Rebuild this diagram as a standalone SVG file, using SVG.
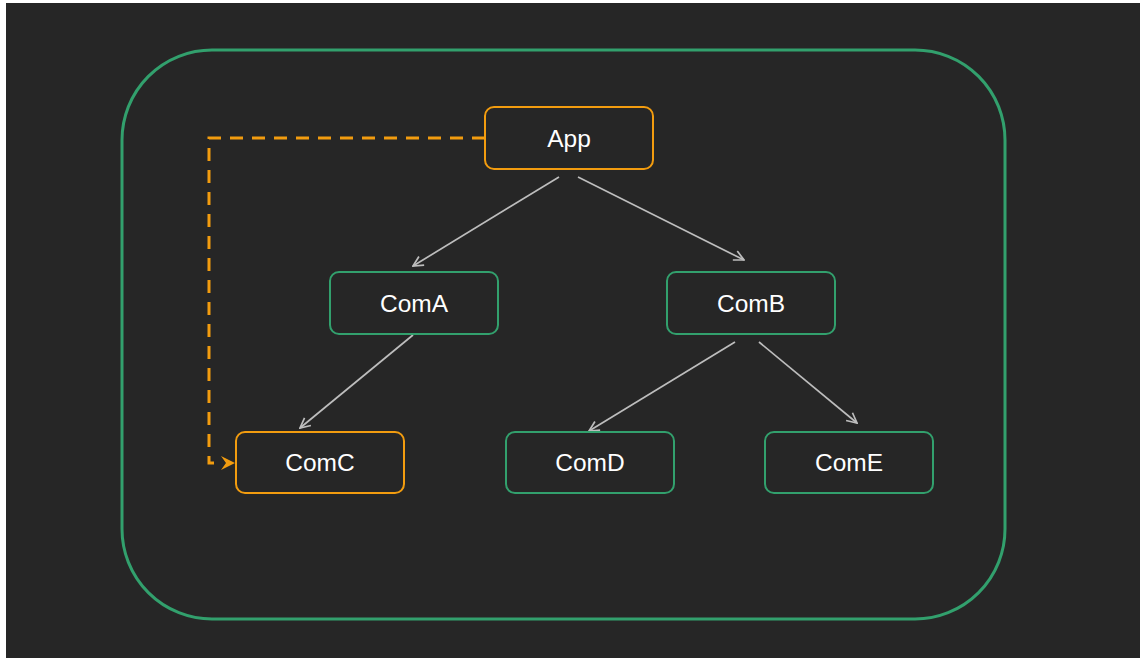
<svg xmlns="http://www.w3.org/2000/svg" width="1146" height="664" viewBox="0 0 1146 664">
<defs>
<style>
.node rect{fill:#262626;stroke-width:2}
.green rect{stroke:#32a06d}
.orange rect{stroke:#f29c0f}
.node text{font-family:"Liberation Sans",Arial,sans-serif;font-size:24.5px;fill:#ffffff;text-anchor:middle}
.edge{stroke:#bdbdbd;stroke-width:1.7;fill:none;marker-end:url(#arr)}
</style>
<marker id="arr" viewBox="0 0 12 12" refX="11" refY="6" markerWidth="12" markerHeight="12" markerUnits="userSpaceOnUse" orient="auto">
<path d="M1,1 L11,6 L1,11" fill="none" stroke="#bdbdbd" stroke-width="1.7"/>
</marker>
</defs>
<rect x="0" y="0" width="1146" height="664" fill="#ffffff"/>
<rect x="6" y="3" width="1134" height="655" fill="#262626"/>
<rect id="container" x="122" y="50" width="883" height="569" rx="90" ry="90" fill="none" stroke="#32a06d" stroke-width="3"/>
<g id="connectors">
<path d="M485,138 H209 V463 H214" fill="none" stroke="#f29c0f" stroke-width="3" stroke-dasharray="13 9"/>
<polygon points="221,456 235,463 221,470 226,463" fill="#f29c0f"/>
<line class="edge" x1="559" y1="177" x2="413" y2="266"/>
<line class="edge" x1="578" y1="177" x2="744" y2="260"/>
<line class="edge" x1="413" y1="335" x2="300" y2="428"/>
<line class="edge" x1="735" y1="342" x2="589" y2="431"/>
<line class="edge" x1="759" y1="342" x2="857" y2="423"/>
</g>
<g id="App" class="node orange"><rect x="485" y="107" width="168" height="62" rx="9"/><text x="569" y="146.5">App</text></g>
<g id="ComA" class="node green"><rect x="330" y="272" width="168" height="62" rx="9"/><text x="414" y="311.5">ComA</text></g>
<g id="ComB" class="node green"><rect x="667" y="272" width="168" height="62" rx="9"/><text x="751" y="311.5">ComB</text></g>
<g id="ComC" class="node orange"><rect x="236" y="432" width="168" height="61" rx="9"/><text x="320" y="471">ComC</text></g>
<g id="ComD" class="node green"><rect x="506" y="432" width="168" height="61" rx="9"/><text x="590" y="471">ComD</text></g>
<g id="ComE" class="node green"><rect x="765" y="432" width="168" height="61" rx="9"/><text x="849" y="471">ComE</text></g>
</svg>
